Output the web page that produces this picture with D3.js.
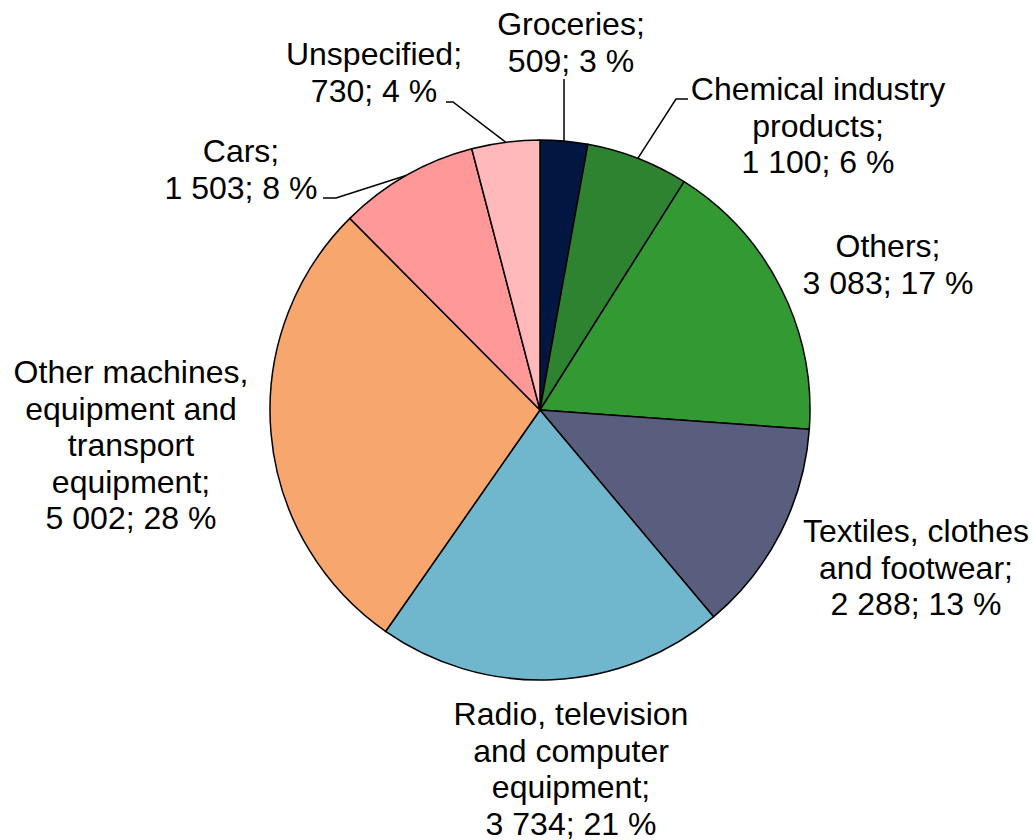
<!DOCTYPE html>
<html>
<head>
<meta charset="utf-8">
<script src="https://cdn.jsdelivr.net/npm/d3@7"></script>
<style>
  html, body { margin: 0; padding: 0; background: #ffffff; }
  svg { display: block; }
  text { font-family: "Liberation Sans", Arial, sans-serif; fill: #000; }
</style>
</head>
<body>
<svg id="chart" width="1033" height="840"></svg>
<script>
// ---- data ----
const categories = [
  "Groceries",
  "Chemical industry products",
  "Others",
  "Textiles, clothes and footwear",
  "Radio, television and computer equipment",
  "Other machines, equipment and transport equipment",
  "Cars",
  "Unspecified"
];
const values = [509, 1100, 3083, 2288, 3734, 5002, 1503, 730];
const colors = ["#011641", "#2e8330", "#339933", "#5a5e7e", "#70b6cd", "#f7a76e", "#ff9999", "#ffb9ba"];

// ---- label layout (line breaks, anchor, leader elbow) ----
const labelLines = [
  ["Groceries;"],
  ["Chemical industry", "products;"],
  ["Others;"],
  ["Textiles, clothes", "and footwear;"],
  ["Radio, television", "and computer", "equipment;"],
  ["Other machines,", "equipment and", "transport", "equipment;"],
  ["Cars;"],
  ["Unspecified;"]
];
const labelPos = [
  {x: 571, y: 35},
  {x: 818, y: 100},
  {x: 888, y: 257},
  {x: 916, y: 542},
  {x: 571, y: 725},
  {x: 131, y: 383},
  {x: 241, y: 162},
  {x: 374, y: 65}
];
// leader lines: [elbow, end] or null
const leaders = [
  [[null, 79], [null, 79]],
  [[676, 99], [688, 99]],
  null, null, null, null,
  [[336, 198], [323, 198]],
  [[453, 102], [446, 102]]
];

const W = 1033, H = 840;
const cx = 540, cy = 410, R = 270;
const fontSize = 32, lineH = 36.5;

const svg = d3.select("#chart");
const total = d3.sum(values);
const fmtNum = v => d3.format(",")(v).replace(/,/g, " ");

const pie = d3.pie().value(d => d).sort(null);
const arcs = pie(values);
const arc = d3.arc().innerRadius(0).outerRadius(R);

const g = svg.append("g").attr("transform", `translate(${cx},${cy})`);
g.selectAll("path.slice")
  .data(arcs)
  .join("path")
  .attr("class", "slice")
  .attr("d", arc)
  .attr("fill", (d, i) => colors[i])
  .attr("stroke", "#000")
  .attr("stroke-width", 1.5)
  .attr("stroke-linejoin", "round");

// leader lines
arcs.forEach((a, i) => {
  const L = leaders[i];
  if (!L) return;
  const mid = (a.startAngle + a.endAngle) / 2;
  const px = cx + R * Math.sin(mid), py = cy - R * Math.cos(mid);
  const pts = [[px, py]];
  L.forEach(p => pts.push([p[0] === null ? px : p[0], p[1]]));
  svg.append("path")
    .attr("d", d3.line()(pts))
    .attr("fill", "none")
    .attr("stroke", "#000")
    .attr("stroke-width", 1.5);
});

// labels
arcs.forEach((a, i) => {
  const lines = labelLines[i].concat([`${fmtNum(values[i])}; ${Math.round(values[i] / total * 100)} %`]);
  const t = svg.append("text")
    .attr("text-anchor", "middle")
    .attr("font-size", fontSize);
  lines.forEach((ln, k) => {
    t.append("tspan")
      .attr("x", labelPos[i].x)
      .attr("y", labelPos[i].y + k * lineH)
      .text(ln);
  });
});
</script>
</body>
</html>
